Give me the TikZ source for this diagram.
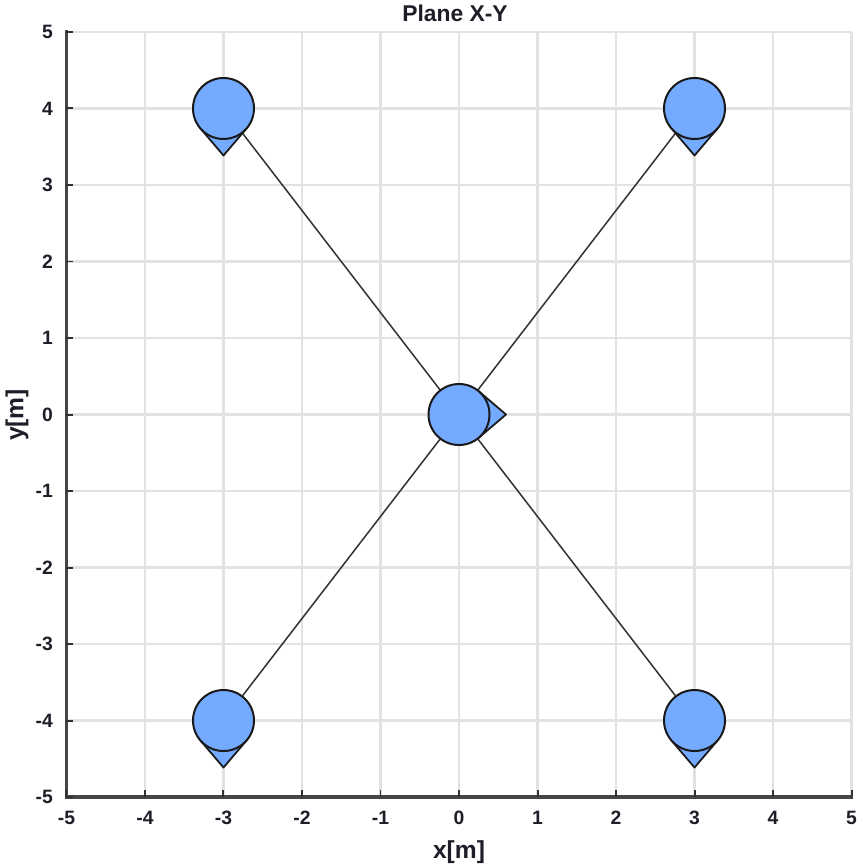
\documentclass[tikz,border=0pt]{standalone}
\usepackage{fontspec}
\setmainfont{Liberation Sans}
\definecolor{robotblue}{RGB}{116,170,255}
\definecolor{gridgray}{RGB}{226,226,226}
\definecolor{axisgray}{RGB}{70,70,70}
\definecolor{textdark}{RGB}{30,30,40}
\pgfdeclarelayer{gridlayer}
\pgfdeclarelayer{bg}
\pgfsetlayers{gridlayer,bg,main}
\begin{document}
\begin{tikzpicture}[x=0.03cm,y=-0.03cm,
  gridline/.style={draw=gridgray,line width=2.2pt},
  axisline/.style={draw=axisgray,line width=3.2pt,line cap=rect},
  tickmark/.style={draw=axisgray!70!black,line width=1.7pt},
  ticklabel/.style={font=\fontsize{16.5}{19}\selectfont\bfseries,text=textdark,inner sep=0pt},
  axlabel/.style={font=\fontsize{21}{24}\selectfont\bfseries,text=textdark,inner sep=0pt},
  robot/.style={circle,draw=black!90,line width=1.7pt,fill=robotblue,minimum size=1.83cm,inner sep=0pt},
  pointer/.style={draw=black!90,line width=1.5pt,fill=robotblue,line join=round},
  link/.style={draw=black!80,line width=1.3pt}]
\useasboundingbox (0,0) rectangle (861,867);
\begin{scope}[shift={(459,414.5)},x=2.355cm,y=2.295cm]
  \begin{pgfonlayer}{gridlayer}
  \foreach \i in {-5,...,5} {
    \draw[gridline] (\i,-5) -- (\i,5);
    \draw[gridline] (-5,\i) -- (5,\i);
  }
  \draw[axisline] (-5,5) -- (-5,-5) -- (5,-5);
  \foreach \i in {-5,...,5} {
    \draw[tickmark] (\i,-5) -- ++(0,0.21cm);
    \draw[tickmark] (-5,\i) -- ++(0.21cm,0);
  }
  \end{pgfonlayer}
  \foreach \i [count=\k] in {-5,...,5} {
    \node[ticklabel,anchor=east] (yl\k) at ([xshift=-0.4cm]-5,\i) {\i};
    \node[ticklabel] (xl\k) at ([yshift=-0.63cm]\i,-5) {\i};
  }
  \node[robot] (r0) at (0,0) {};
  \node[robot] (r1) at (-3,4) {};
  \node[robot] (r2) at (3,4) {};
  \node[robot] (r3) at (-3,-4) {};
  \node[robot] (r4) at (3,-4) {};
  \begin{pgfonlayer}{bg}
    \draw[link] (r1) -- (r0);
    \draw[link] (r2) -- (r0);
    \draw[link] (r3) -- (r0);
    \draw[link] (r4) -- (r0);
    \foreach \n/\a in {r0/0,r1/-90,r2/-90,r3/-90,r4/-90} {
      \begin{scope}[shift={(\n.center)},rotate=\a]
        \draw[pointer] (0,0) -- (0.594cm,0.696cm) -- (1.41cm,0) -- (0.594cm,-0.696cm) -- cycle;
      \end{scope}
    }
  \end{pgfonlayer}
\end{scope}
\node[axlabel,font=\fontsize{19.5}{22}\selectfont\bfseries] (title) at (455,13) {Plane X-Y};
\node[axlabel] (xlab) at (459,852) {x[m]};
\node[axlabel,rotate=90] (ylab) at (17,415) {y[m]};
\end{tikzpicture}
\end{document}
